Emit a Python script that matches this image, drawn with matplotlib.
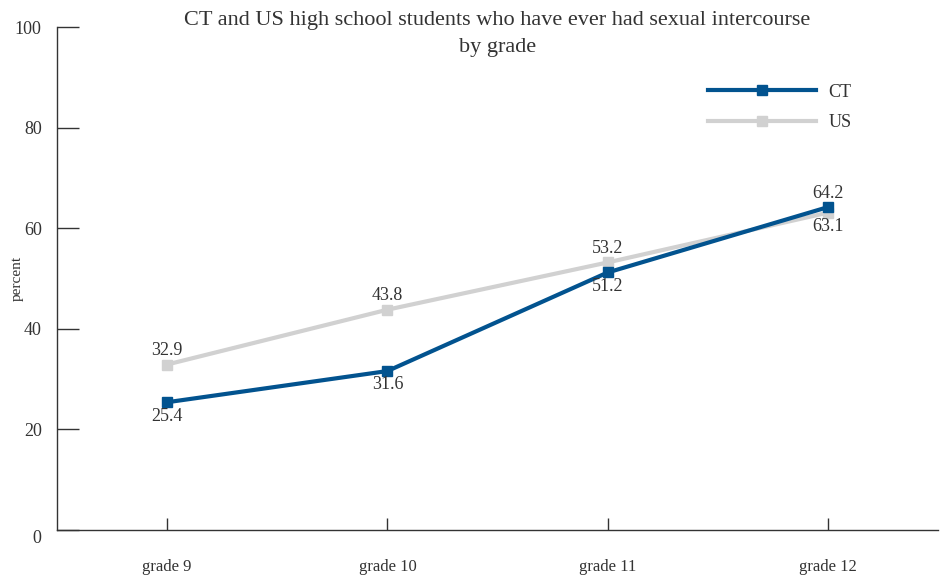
import matplotlib.pyplot as plt

plt.rcParams['font.family'] = ['Liberation Serif', 'DejaVu Serif']

grades = ['grade 9', 'grade 10', 'grade 11', 'grade 12']
ct = [25.4, 31.6, 51.2, 64.2]
us = [32.9, 43.8, 53.2, 63.1]

# label placement: +1 above the point, -1 below
ct_side = [-1, -1, -1, 1]
us_side = [1, 1, 1, -1]

blue = '#02538f'
grey = '#d1d1d1'

fig = plt.figure(figsize=(9.48, 5.76), dpi=100)
ax = fig.add_axes([0.0601, 0.0799, 0.9294, 0.8731])

x = range(len(grades))
ax.plot(x, us, color=grey, lw=3, marker='s', ms=7.5, label='US', zorder=2)
ax.plot(x, ct, color=blue, lw=3, marker='s', ms=7.5, label='CT', zorder=3)

for xi, v, s in zip(x, ct, ct_side):
    ax.annotate(f'{v}', (xi, v), xytext=(0, 10 * s), textcoords='offset points',
                ha='center', va='center', fontsize=13, color='#333333')
for xi, v, s in zip(x, us, us_side):
    ax.annotate(f'{v}', (xi, v), xytext=(0, 10 * s), textcoords='offset points',
                ha='center', va='center', fontsize=13, color='#333333')

ax.set_xlim(-0.5, 3.5)
ax.set_ylim(0, 100)
ax.set_xticks(list(x))
ax.set_xticklabels(grades)
ax.set_yticks([0, 20, 40, 60, 80, 100])

for side in ['top', 'right']:
    ax.spines[side].set_visible(False)
for side in ['left', 'bottom']:
    ax.spines[side].set_color('#333333')
    ax.spines[side].set_linewidth(1)

ax.tick_params(axis='y', direction='in', length=16, width=1, color='#333333',
               labelsize=13, labelcolor='#333333', pad=11)
ax.tick_params(axis='x', direction='in', length=9, width=1, color='#333333',
               labelsize=12, labelcolor='#333333', pad=21)
ax.get_yticklabels()[0].set_verticalalignment('top')
ax.set_ylabel('percent', fontsize=11, color='#333333')
ax.yaxis.set_label_coords(-0.0375, 0.5)

fig.text(0.5245, 0.981, 'CT and US high school students who have ever had sexual intercourse\nby grade',
         ha='center', va='top', fontsize=16, color='#333333', linespacing=1.6)

handles, labels = ax.get_legend_handles_labels()
ax.legend(handles[::-1], labels[::-1], loc='upper left', bbox_to_anchor=(0.72, 0.92),
          frameon=False, fontsize=13, handlelength=6.0, handletextpad=0.7,
          labelspacing=0.75, labelcolor='#333333')

fig.savefig('out.png', dpi=100)
